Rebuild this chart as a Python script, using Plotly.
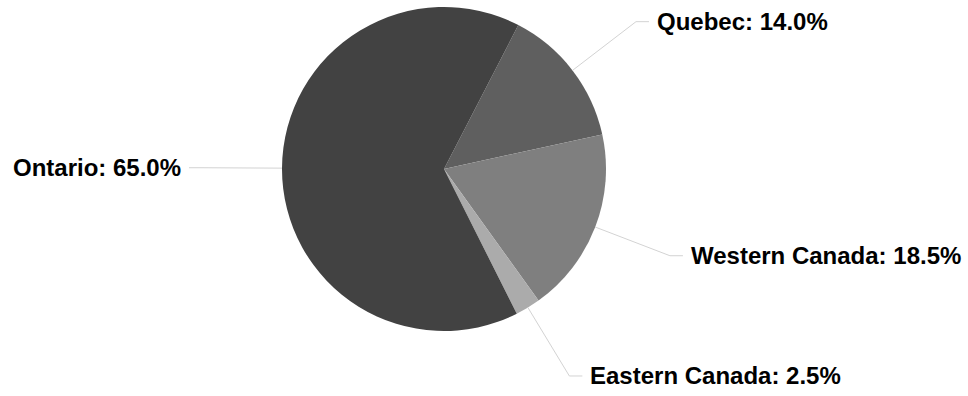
import math
import plotly.graph_objects as go

# ---- data ----
regions = ["Quebec", "Western Canada", "Eastern Canada", "Ontario"]
shares = [14.0, 18.5, 2.5, 65.0]
slice_colors = ["#5f5f5f", "#7f7f7f", "#ababab", "#424242"]

# ---- layout constants ----
W, H = 968, 396
CX, CY, R = 444.0, 169.0, 162.0
TOP = CY - R
BOT = CY + R
ROT = 27.3
ELBOW_R = 242.0
SEG = 13.0
GAP = 7.0

def px_to_paper(x, y):
    return x / W, (BOT - y) / (BOT - TOP)

fig = go.Figure(go.Pie(
    labels=regions,
    values=shares,
    sort=False,
    direction="clockwise",
    rotation=ROT,
    marker=dict(colors=slice_colors, line=dict(width=0)),
    textinfo="none",
    hoverinfo="label+percent",
    showlegend=False,
    domain=dict(x=[0, 2 * CX / W], y=[0, 1]),
))

total = sum(shares)
start = ROT
shapes, annotations = [], []
for lab, v in zip(regions, shares):
    span = v / total * 360.0
    mid = math.radians(start + span / 2)
    start += span
    sx, sy = math.sin(mid), -math.cos(mid)
    x0, y0 = CX + R * sx, CY + R * sy
    x1, y1 = CX + ELBOW_R * sx, CY + ELBOW_R * sy
    right = sx >= 0
    x2 = x1 + SEG if right else x1 - SEG
    p0, p1, p2 = px_to_paper(x0, y0), px_to_paper(x1, y1), px_to_paper(x2, y1)
    shapes.append(dict(
        type="path", xref="paper", yref="paper",
        path=f"M {p0[0]} {p0[1]} L {p1[0]} {p1[1]} L {p2[0]} {p2[1]}",
        line=dict(color="#d3d3d3", width=1),
    ))
    tx = x2 + GAP if right else x2 - GAP
    tp = px_to_paper(tx, y1)
    annotations.append(dict(
        xref="paper", yref="paper", x=tp[0], y=tp[1],
        xanchor="left" if right else "right", yanchor="middle",
        text=f"{lab}: {v / total * 100:.1f}%", showarrow=False,
        font=dict(family="Liberation Sans, Arial, sans-serif", size=24, color="#000000", weight="bold"),
        borderpad=0,
    ))

fig.update_layout(
    width=W, height=H,
    margin=dict(l=0, r=0, t=TOP, b=H - BOT, pad=0),
    paper_bgcolor="white", plot_bgcolor="white",
    shapes=shapes, annotations=annotations,
)

fig.write_html("out.html", config={"displayModeBar": False},
               post_script="document.body.style.margin='0';")
